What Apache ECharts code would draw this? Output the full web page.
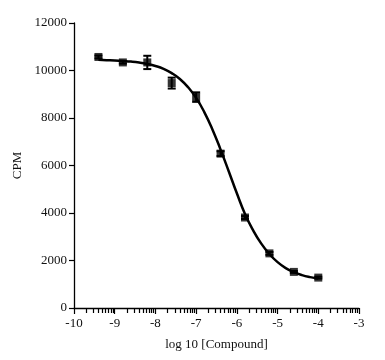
<!DOCTYPE html>
<html>
<head>
<meta charset="utf-8">
<script src="https://cdn.jsdelivr.net/npm/echarts@6/dist/echarts.min.js"></script>
<style>
html,body{margin:0;padding:0;background:#fff;}
#chart{width:385px;height:360px;}
</style>
</head>
<body>
<div id="chart"></div>
<script>
// Data
var logConc = [-9.4, -8.8, -8.2, -7.6, -7.0, -6.4, -5.8, -5.2, -4.6, -4.0];
var cpm = [10570, 10340, 10340, 9470, 8880, 6500, 3810, 2300, 1520, 1280];
var cpmErr = [60, 50, 280, 230, 200, 100, 60, 60, 40, 40];
// Fitted curve as drawn in the reference
var curveX = [-9.4, -9.2, -9.0, -8.8, -8.6, -8.4, -8.2, -8.0, -7.8, -7.6, -7.4, -7.2, -7.0, -6.8, -6.6, -6.4, -6.2, -6.0, -5.8, -5.6, -5.4, -5.2, -5.0, -4.8, -4.6, -4.4, -4.2, -4.0];
var curveY = [10450, 10435, 10420, 10400, 10375, 10335, 10275, 10190, 10070, 9890, 9645, 9300, 8845, 8250, 7520, 6670, 5760, 4830, 3960, 3270, 2710, 2270, 1930, 1680, 1510, 1385, 1300, 1240];
var xTickValues = [-10, -9, -8, -7, -6, -5, -4, -3];
var xTickLabels = ['-10', '-9', '-8', '-7', '-6', '-5', '-4', '-3'];
var yTickLabels = ['0', '2000', '4000', '6000', '8000', '10000', '12000'];
var minorTickOffsets = [0.301, 0.477, 0.602, 0.699, 0.778, 0.845, 0.903, 0.954];
var decadeStarts = [-10, -9, -8, -7, -6, -5, -4];

var minorTicks = [];
decadeStarts.forEach(function (d) {
  minorTickOffsets.forEach(function (o) { minorTicks.push(d + o); });
});

var font = '"Liberation Serif", "DejaVu Serif", serif';
var chart = echarts.init(document.getElementById('chart'), null, {renderer: 'canvas'});
chart.setOption({
  animation: false,
  backgroundColor: '#fff',
  grid: {left: 74, right: 26, top: 23, bottom: 52, containLabel: false},
  xAxis: [{
    type: 'value', min: -10, max: -3, interval: 1,
    name: 'log 10 [Compound]', nameLocation: 'middle', nameGap: 30,
    nameTextStyle: {fontFamily: font, fontSize: 13, color: '#111'},
    axisLine: {show: true, onZero: false, lineStyle: {color: '#000', width: 1.3}},
    axisTick: {show: true, length: 6, lineStyle: {color: '#000', width: 1.2}},
    axisLabel: {margin: 9, fontFamily: font, fontSize: 13, color: '#111',
      formatter: function (v) { var i = xTickValues.indexOf(v); return i >= 0 ? xTickLabels[i] : ''; }},
    splitLine: {show: false}
  }, {
    type: 'value', min: -10, max: -3, position: 'bottom', offset: 0,
    axisLine: {show: true, onZero: false, lineStyle: {color: 'rgba(0,0,0,0)'}},
    axisTick: {show: true, length: 5, customValues: minorTicks, lineStyle: {color: '#000', width: 1.2}},
    axisLabel: {show: false},
    splitLine: {show: false}
  }],
  yAxis: {
    type: 'value', min: 0, max: 12000, interval: 2000,
    name: 'CPM', nameLocation: 'middle', nameGap: 49,
    nameTextStyle: {fontFamily: font, fontSize: 13, color: '#111'},
    axisLine: {show: true, onZero: false, lineStyle: {color: '#000', width: 1.3}},
    axisTick: {show: true, length: 5, lineStyle: {color: '#000', width: 1.2}},
    axisLabel: {margin: 7, fontFamily: font, fontSize: 13, color: '#111',
      formatter: function (v) { return yTickLabels[Math.round(v / 2000)]; }},
    splitLine: {show: false}
  },
  series: [{
    type: 'line',
    data: curveX.map(function (x, i) { return [x, curveY[i]]; }),
    smooth: true,
    showSymbol: false,
    lineStyle: {color: '#000', width: 2.5},
    z: 2
  }, {
    type: 'custom',
    clip: false,
    data: logConc.map(function (x, i) { return [x, cpm[i] - cpmErr[i], cpm[i] + cpmErr[i]]; }),
    renderItem: function (params, api) {
      var lo = api.coord([api.value(0), api.value(1)]);
      var hi = api.coord([api.value(0), api.value(2)]);
      var hw = 4;
      var st = {stroke: '#000', lineWidth: 2};
      return {type: 'group', children: [
        {type: 'line', shape: {x1: lo[0], y1: lo[1], x2: hi[0], y2: hi[1]}, style: st},
        {type: 'line', shape: {x1: lo[0] - hw, y1: lo[1], x2: lo[0] + hw, y2: lo[1]}, style: st},
        {type: 'line', shape: {x1: hi[0] - hw, y1: hi[1], x2: hi[0] + hw, y2: hi[1]}, style: st}
      ]};
    },
    z: 3
  }, {
    type: 'scatter',
    data: logConc.map(function (x, i) { return [x, cpm[i]]; }),
    symbol: 'rect',
    symbolSize: 8,
    itemStyle: {color: '#000'},
    z: 4
  }]
});
</script>
</body>
</html>
